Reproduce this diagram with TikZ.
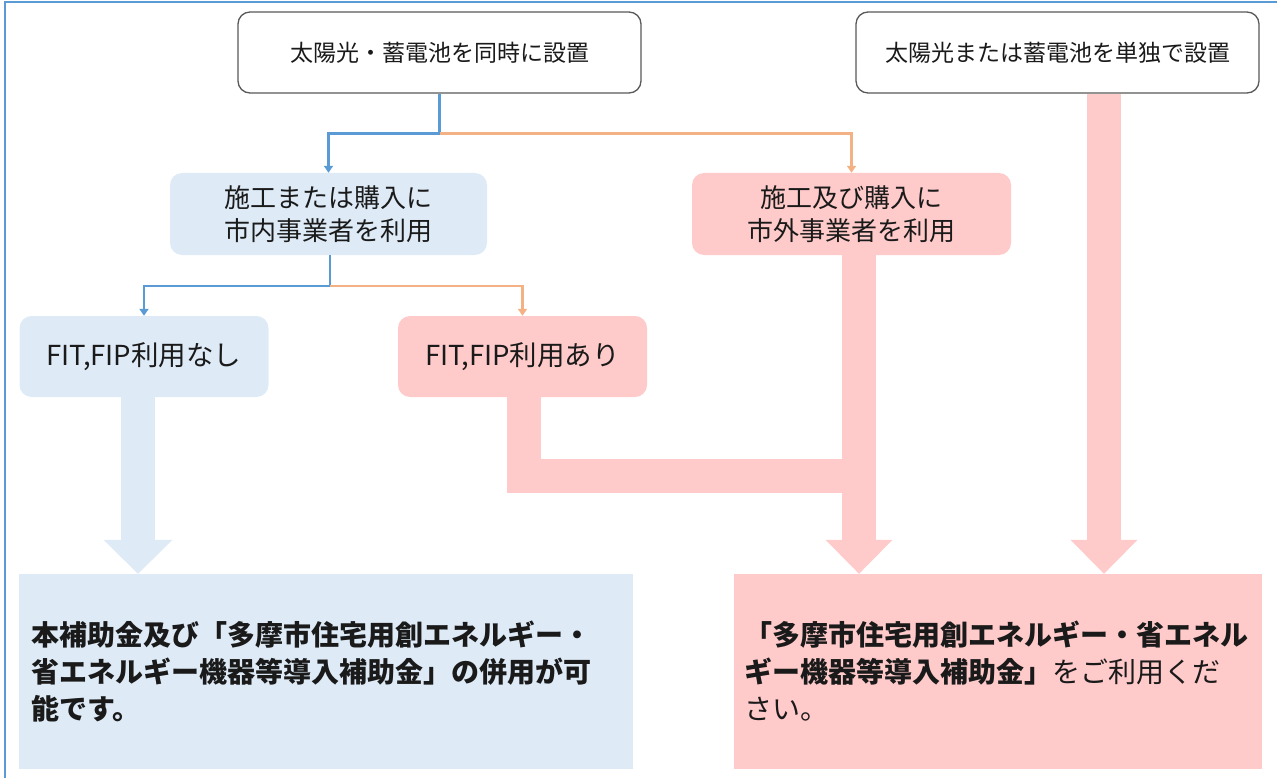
\documentclass[tikz,border=0pt]{standalone}
\usepackage{fontspec}
\setmainfont{Noto Sans CJK JP}
\usetikzlibrary{arrows.meta,calc}
\definecolor{lineblue}{HTML}{5B9BD5}
\definecolor{lineorange}{HTML}{F4B183}
\definecolor{fillblue}{HTML}{DEEBF7}
\definecolor{fillpink}{HTML}{FFCACA}
\definecolor{boxgray}{HTML}{595959}
\definecolor{txt}{HTML}{1A1A1A}
\begin{document}
\begin{tikzpicture}[x=1pt,y=-1pt,
  topbox/.style={draw=boxgray, line width=1.3pt, fill=white, rounded corners=12pt,
    minimum width=403pt, minimum height=81pt, inner sep=0pt,
    font=\fontsize{23}{28}\selectfont, text=txt},
  midbox/.style={rounded corners=12pt, inner sep=0pt, minimum height=82pt,
    align=center, font=\fontsize{26}{33}\selectfont, text=txt},
  fitbox/.style={rounded corners=12pt, inner sep=0pt, minimum width=249pt,
    minimum height=81pt, font=\fontsize{27.5}{30}\selectfont, text=txt},
  resbox/.style={inner ysep=0pt, minimum height=195pt, align=left,
    font=\fontsize{28}{37}\selectfont, text=txt},
  thinblue/.style={draw=lineblue, line width=2.5pt, -{Triangle[width=9pt,length=7pt]}},
  thinorange/.style={draw=lineorange, line width=2.5pt, -{Triangle[width=9pt,length=7pt]}},
  fatblue/.style={draw=fillblue, line width=34pt},
  fatpink/.style={draw=fillpink, line width=34pt, line join=miter},
]
\useasboundingbox (0,0) rectangle (1277,778);
% frame
\draw[lineblue, line width=1.5pt] (5,778) -- (5,2) -- (1277,2);

% coordinates for the fat arrows
\coordinate (p1) at (138,0);
\coordinate (q1) at (523.5,0);
\coordinate (q3) at (859,0);
\coordinate (r1) at (1104,0);

% nodes
\node[topbox] (b1) at (439.5,52.5) {太陽光・蓄電池を同時に設置};
\node[topbox] (b2) at (1057.5,52.5) {太陽光または蓄電池を単独で設置};
\node[midbox, fill=fillblue, minimum width=317pt] (b3) at (328.5,214) {施工または購入に\\市内事業者を利用};
\node[midbox, fill=fillpink, minimum width=319pt] (b4) at (851.5,214) {施工及び購入に\\市外事業者を利用};
\node[fitbox, fill=fillblue] (b5) at (144,356.5) {FIT,FIP利用なし};
\node[fitbox, fill=fillpink] (b6) at (522.5,356.5) {FIT,FIP利用あり};
\node[resbox, fill=fillblue, minimum width=614pt, text width=590pt, inner xsep=12pt] (b7) at (326,671.5)
  {\bfseries 本補助金及び「多摩市住宅用創エネルギー・\\\bfseries 省エネルギー機器等導入補助金」の併用が可\\\bfseries 能です。};
\node[resbox, fill=fillpink, minimum width=528pt, text width=508pt, inner xsep=10pt] (b8) at (998,671.5)
  {\bfseries 「多摩市住宅用創エネルギー・省エネル\\{\bfseries ギー機器等導入補助金」}\mdseries をご利用くだ\\\mdseries さい。};

% fat arrows
\coordinate (q2) at ($(b6.south -| q3)+(0,79)$);
\draw[fatblue] (b5.south -| p1) -- ($(b7.north -| p1)+(0,-33)$);
\fill[fillblue] ($(b7.north -| p1)+(-34.5,-34)$) -- ($(b7.north -| p1)+(34.5,-34)$) -- (b7.north -| p1) -- cycle;
\draw[fatpink] ($(b6.south -| q1)+(0,-1)$) |- (q2);
\draw[fatpink] ($(b4.south -| q3)+(0,-1)$) -- ($(b8.north -| q3)+(0,-33)$);
\fill[fillpink] ($(b8.north -| q3)+(-33.5,-34)$) -- ($(b8.north -| q3)+(33.5,-34)$) -- (b8.north -| q3) -- cycle;
\draw[fatpink] ($(b2.south -| r1)+(0,0.7)$) -- ($(b8.north -| r1)+(0,-33)$);
\fill[fillpink] ($(b8.north -| r1)+(-33.5,-34)$) -- ($(b8.north -| r1)+(33.5,-34)$) -- (b8.north -| r1) -- cycle;

% thin connectors
\coordinate (s1) at ($(b1.south)+(0,40)$);
\coordinate (s2) at ($(b3.south)+(1.5,31)$);
\draw[thinblue] (b1.south) -- (s1) -| (b3.north);
\draw[thinorange] (s1) -| (b4.north);
\draw[thinblue] ($(b3.south)+(1.5,0)$) -- (s2) -| (b5.north);
\draw[thinorange] (s2) -| (b6.north);
\end{tikzpicture}
\end{document}
